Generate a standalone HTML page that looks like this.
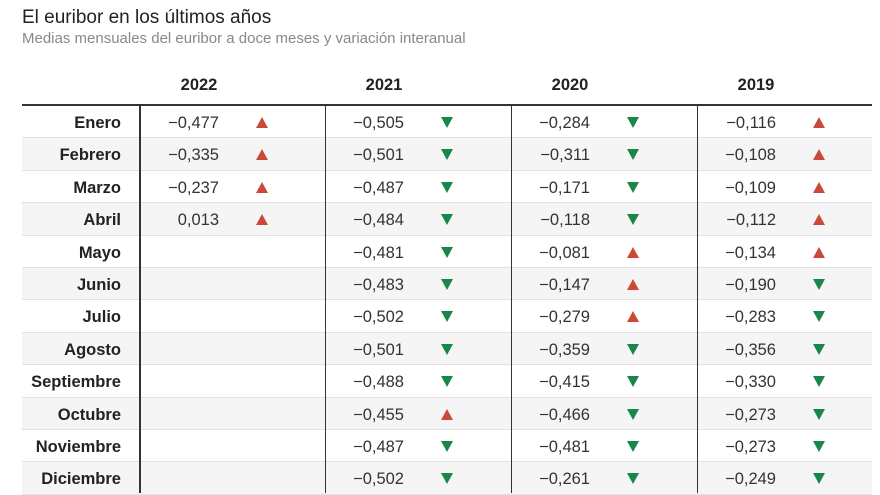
<!DOCTYPE html>
<html><head><meta charset="utf-8"><style>
body{margin:0;width:880px;height:493px;background:#fff;font-family:"Liberation Sans",sans-serif;position:relative;overflow:hidden}
.a{position:absolute;white-space:nowrap}
</style></head><body>
<div class="a" style="left:22px;top:7px;font-size:19px;color:#222">El euribor en los últimos años</div>
<div class="a" style="left:22px;top:30px;font-size:15px;color:#888">Medias mensuales del euribor a doce meses y variación interanual</div>
<div id="t"></div>
<script>
const months=["Enero","Febrero","Marzo","Abril","Mayo","Junio","Julio","Agosto","Septiembre","Octubre","Noviembre","Diciembre"];
const years=["2022","2021","2020","2019"];
const v2022=["−0,477","−0,335","−0,237","0,013","","","","","","","",""];
const d2022=["u","u","u","u","","","","","","","",""];
const v2021=["−0,505","−0,501","−0,487","−0,484","−0,481","−0,483","−0,502","−0,501","−0,488","−0,455","−0,487","−0,502"];
const d2021=["d","d","d","d","d","d","d","d","d","u","d","d"];
const v2020=["−0,284","−0,311","−0,171","−0,118","−0,081","−0,147","−0,279","−0,359","−0,415","−0,466","−0,481","−0,261"];
const d2020=["d","d","d","d","u","u","u","d","d","d","d","d"];
const v2019=["−0,116","−0,108","−0,109","−0,112","−0,134","−0,190","−0,283","−0,356","−0,330","−0,273","−0,273","−0,249"];
const d2019=["u","u","u","u","u","d","d","d","d","d","d","d"];
const vals=[v2022,v2021,v2020,v2019],dirs=[d2022,d2021,d2020,d2019];
const t=document.getElementById('t');
const colL=[140,325,511,697],rowH=32.4,top0=106;
function mk(html,css){const e=document.createElement('div');e.className='a';e.style.cssText=css;e.innerHTML=html;t.appendChild(e);return e;}
months.forEach((m,i)=>{
  const y=top0+i*rowH;
  const r=mk('',`left:22px;top:${y}px;width:850px;height:${rowH}px;background:${i%2?'#f5f5f5':'#fff'};border-bottom:1px solid #e2e2e2;box-sizing:border-box`);
  
  
  const l=mk(m,`right:${880-121}px;top:${y+8}px;font-size:16.5px;font-weight:bold;color:#222`);
  
  
  years.forEach((yr,j)=>{
    if(vals[j][i]){
      const v=mk(vals[j][i],`right:${880-(colL[j]+79)}px;top:${y+8}px;font-size:16.5px;color:#333`);
      
      
      const up=dirs[j][i]==='u';
      const col=up?'#c94a3b':'#19874a';
      const tri=up?`border-bottom:11px solid ${col}`:`border-top:11px solid ${col}`;
      const a=mk('',`left:${colL[j]+116}px;top:${y+11}px;width:0;height:0;border-left:6.5px solid transparent;border-right:6.5px solid transparent;${tri}`);
      
      
    }
  });
});
years.forEach((yr,j)=>{
  const h=mk(yr,`left:${colL[j]}px;width:118px;text-align:center;top:76px;font-size:16.5px;font-weight:bold;color:#222`);
  
  
  const s=mk('',`left:${colL[j]-(j?0:1)}px;top:106px;width:${j?1:2}px;height:387px;background:#333`);
  
  
});
const hl=mk('',`left:22px;top:104px;width:850px;height:2px;background:#333`);


</script>
</body></html>
